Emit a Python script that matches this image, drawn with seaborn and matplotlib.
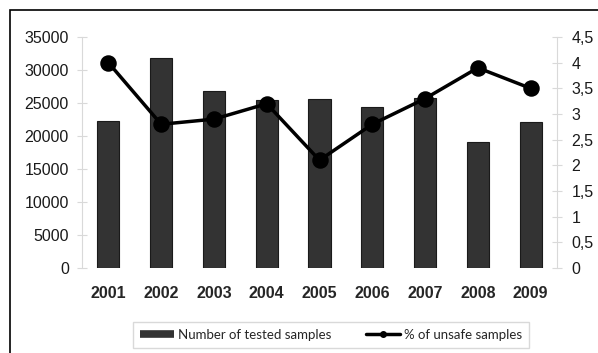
import matplotlib
matplotlib.use("Agg")
import matplotlib.pyplot as plt
from matplotlib.patches import Rectangle
from matplotlib.lines import Line2D
from matplotlib.ticker import FuncFormatter
import seaborn as sns
import pandas as pd

years = ["2001", "2002", "2003", "2004", "2005", "2006", "2007", "2008", "2009"]
tested_samples = [22300, 31800, 26800, 25500, 25600, 24400, 25800, 19100, 22100]
unsafe_pct = [4.0, 2.8, 2.9, 3.2, 2.1, 2.8, 3.3, 3.9, 3.5]
left_ticks = [0, 5000, 10000, 15000, 20000, 25000, 30000, 35000]
right_ticks = [0, 0.5, 1, 1.5, 2, 2.5, 3, 3.5, 4, 4.5]
bar_label = "Number of tested samples"
line_label = "% of unsafe samples"

df = pd.DataFrame({"year": years, "tested": tested_samples, "unsafe": unsafe_pct})

sns.set_style("white")
plt.rcParams["font.family"] = ["Liberation Sans", "DejaVu Sans"]
tick_font = ["Liberation Sans", "DejaVu Sans"]

fig = plt.figure(figsize=(5.98, 3.53), dpi=100)
fig.patch.set_facecolor("white")

# outer frame, open at the right and bottom edges
fig.add_artist(Rectangle((10 / 598, -0.2), 1.2, 1 - 10 / 353 + 0.2,
                         transform=fig.transFigure, fill=False,
                         edgecolor="black", linewidth=1.2))

ax = fig.add_axes([82 / 598, 85 / 353, 475 / 598, 231 / 353])
sns.barplot(data=df, x="year", y="tested", ax=ax, color="#333333",
            saturation=1, width=0.42, edgecolor="#1a1a1a", linewidth=0.8)
ax.set_ylim(0, 35000)
ax.set_xlim(-0.5, 8.5)
ax.set_yticks(left_ticks)
ax.set_xlabel("")
ax.set_ylabel("")

ax2 = ax.twinx()
sns.pointplot(data=df, x="year", y="unsafe", ax=ax2, color="black",
              markers="o", markersize=10, linewidth=2.5)
ax2.set_ylim(0, 4.5)
ax2.set_xlim(-0.5, 8.5)
ax2.set_yticks(right_ticks)
ax2.yaxis.set_major_formatter(
    FuncFormatter(lambda v, _: (f"{v:g}").replace(".", ",")))
ax2.set_ylabel("")
ax2.set_xlabel("")

grey = "#d9d9d9"
for a in (ax, ax2):
    for s in a.spines.values():
        s.set_visible(False)
ax.spines["left"].set_visible(True)
ax.spines["left"].set_color(grey)
ax.spines["left"].set_linewidth(0.8)
ax2.spines["right"].set_visible(True)
ax2.spines["right"].set_color(grey)
ax2.spines["right"].set_linewidth(0.8)

ax.tick_params(axis="y", direction="inout", length=7, width=0.8, color=grey,
               labelsize=11.5, pad=6, labelcolor="#1a1a1a", left=True)
ax2.tick_params(axis="y", direction="inout", length=7, width=0.8, color=grey,
                labelsize=11.5, pad=7, labelcolor="#1a1a1a", right=True)
ax.tick_params(axis="x", length=0, pad=13, labelsize=11.5)
for t in ax.get_yticklabels() + ax2.get_yticklabels():
    t.set_fontfamily(tick_font)
for t in ax.get_xticklabels():
    t.set_fontfamily(tick_font)
    t.set_fontweight("bold")

handles = [
    Line2D([0], [0], color="#333333", linewidth=5.5, solid_capstyle="butt"),
    Line2D([0], [0], color="black", linewidth=2.5, marker="o", markersize=4),
]
fig.legend(handles, [bar_label, line_label], loc="center",
           bbox_to_anchor=(331 / 598, 1 - 335 / 353), ncol=2,
           frameon=True, fancybox=False, edgecolor="#d0d0d0",
           prop={"family": ["Lato", "DejaVu Sans"], "size": 9.5},
           handlelength=2.6, columnspacing=2.6, handletextpad=0.3,
           borderpad=0.5)

fig.savefig("out.png", dpi=100, facecolor="white")
